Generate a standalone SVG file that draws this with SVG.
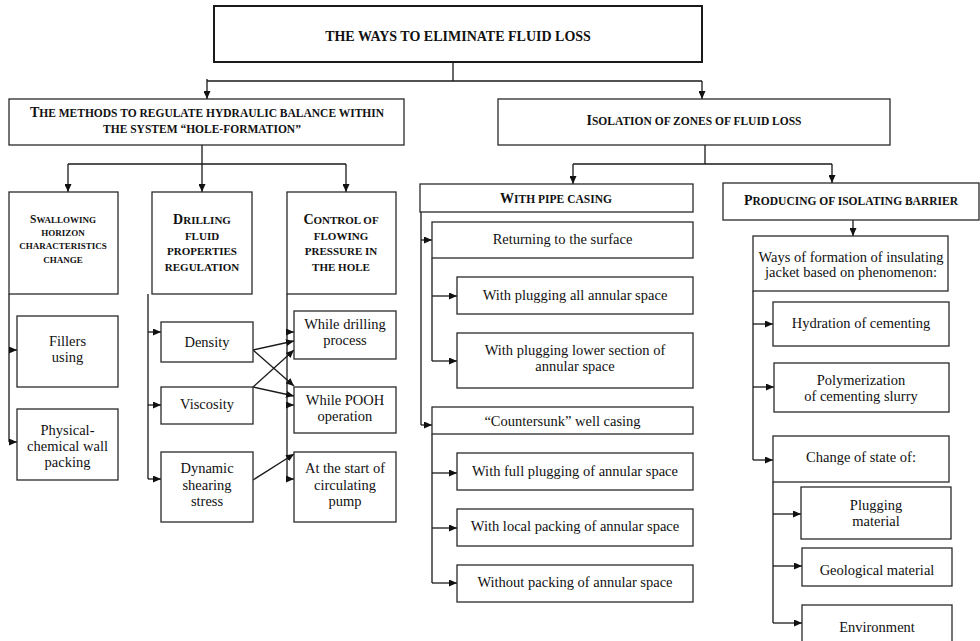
<svg xmlns="http://www.w3.org/2000/svg" width="980" height="641" viewBox="0 0 980 641" font-family="Liberation Serif, Times New Roman, serif">
<style>
rect{fill:#fff;stroke:#2a2a2a;stroke-width:1.3}
.title rect{stroke-width:2;stroke:#1a1a1a}
text{fill:#111;text-anchor:middle}
.t{font-size:14px}
.h{font-weight:bold;font-size:11.5px}
.h1{font-weight:bold;font-size:14px}
.hc{font-weight:bold;font-size:11px}
.hs{font-weight:bold;font-size:9px}
.b{font-size:14.5px}
#conn path{fill:none;stroke:#1a1a1a;stroke-width:1.3}
#conn .a{marker-end:url(#arr)}
</style>
<defs>
<marker id="arr" markerUnits="userSpaceOnUse" markerWidth="8" markerHeight="7" refX="8" refY="3.5" orient="auto">
<path d="M0,0 L8,3.5 L0,7 z" fill="#111"/>
</marker>
</defs>
<rect x="0" y="0" width="980" height="641" style="fill:#fff;stroke:none"/>
<g id="conn">
<path d="M453,62 V81 M207,81 H702"/>
<path class="a" d="M207,79 V99"/>
<path class="a" d="M702,81 V99"/>
<path d="M202,145 V164 M68,164 H346"/>
<path class="a" d="M68,164 V192"/>
<path class="a" d="M202,164 V192"/>
<path class="a" d="M346,164 V192"/>
<path d="M705,145 V164 M573,164 H832"/>
<path class="a" d="M573,164 V184"/>
<path class="a" d="M832,164 V183"/>
<path d="M9,294 V442"/>
<path class="a" d="M9,350 H17"/>
<path class="a" d="M9,442 H17"/>
<path d="M148,294 V479"/>
<path class="a" d="M148,332 H161"/>
<path class="a" d="M148,405 H161"/>
<path class="a" d="M148,479 H161"/>
<path d="M287,294 V479"/>
<path class="a" d="M287,332 H294"/>
<path class="a" d="M287,405 H294"/>
<path class="a" d="M287,479 H294"/>
<path class="a" d="M253,350 L294,341"/>
<path class="a" d="M253,350 L294,386"/>
<path class="a" d="M253,387 L294,350"/>
<path class="a" d="M253,387 L294,396"/>
<path class="a" d="M253,480 L294,454"/>
<path d="M421,212 V425"/>
<path class="a" d="M421,240 H432"/>
<path class="a" d="M421,425 H432"/>
<path d="M432,258 V361"/>
<path class="a" d="M432,296 H457"/>
<path class="a" d="M432,361 H457"/>
<path d="M432,434 V583"/>
<path class="a" d="M432,473 H457"/>
<path class="a" d="M432,528 H457"/>
<path class="a" d="M432,583 H457"/>
<path class="a" d="M853,220 V236"/>
<path d="M753,291 V460"/>
<path class="a" d="M753,324 H773"/>
<path class="a" d="M753,387 H774"/>
<path class="a" d="M753,460 H773"/>
<path d="M773,482 V623"/>
<path class="a" d="M773,514 H801"/>
<path class="a" d="M773,566 H802"/>
<path class="a" d="M773,623 H802"/>
</g>
<g id="n-title" class="title">
<rect x="214" y="6" width="488" height="56"/>
<text class="t" font-weight="bold" x="458" y="41">THE WAYS TO ELIMINATE FLUID LOSS</text>
</g>
<g id="n-methods">
<rect x="9" y="99" width="395" height="46"/>
<text class="h" x="207" y="117"><tspan class="h1">T</tspan>HE METHODS TO REGULATE HYDRAULIC BALANCE WITHIN</text>
<text class="h" x="202" y="133">THE SYSTEM “HOLE-FORMATION”</text>
</g>
<g id="n-isolation">
<rect x="498" y="99" width="392" height="46"/>
<text class="h" x="694" y="125"><tspan class="h1">I</tspan>SOLATION OF ZONES OF FLUID LOSS</text>
</g>
<g id="n-swallowing">
<rect x="9" y="192" width="109" height="102"/>
<text class="hs" x="63" y="223"><tspan style="font-size:11.5px">S</tspan>WALLOWING</text>
<text class="hs" x="63" y="236">HORIZON</text>
<text class="hs" x="63" y="249">CHARACTERISTICS</text>
<text class="hs" x="63" y="263">CHANGE</text>
</g>
<g id="n-drilling">
<rect x="152" y="192" width="100" height="102"/>
<text class="hc" x="202" y="224"><tspan style="font-size:14px">D</tspan>RILLING</text>
<text class="hc" x="202" y="240">FLUID</text>
<text class="hc" x="202" y="255">PROPERTIES</text>
<text class="hc" x="202" y="271">REGULATION</text>
</g>
<g id="n-control">
<rect x="287" y="192" width="109" height="102"/>
<text class="hc" x="341" y="224"><tspan style="font-size:14px">C</tspan>ONTROL OF</text>
<text class="hc" x="341" y="240">FLOWING</text>
<text class="hc" x="341" y="255">PRESSURE IN</text>
<text class="hc" x="341" y="271">THE HOLE</text>
</g>
<g id="n-fillers">
<rect x="17" y="316" width="101" height="71"/>
<text class="b" x="67.5" y="346">Fillers</text>
<text class="b" x="67.5" y="362">using</text>
</g>
<g id="n-physical">
<rect x="17" y="409" width="101" height="71"/>
<text class="b" x="67.5" y="435">Physical-</text>
<text class="b" x="67.5" y="451">chemical wall</text>
<text class="b" x="67.5" y="467">packing</text>
</g>
<g id="n-density">
<rect x="161" y="322" width="92" height="40"/>
<text class="b" x="207" y="347">Density</text>
</g>
<g id="n-viscosity">
<rect x="161" y="387" width="92" height="37"/>
<text class="b" x="207" y="409">Viscosity</text>
</g>
<g id="n-dynamic">
<rect x="161" y="452" width="92" height="70"/>
<text class="b" x="207" y="473">Dynamic</text>
<text class="b" x="207" y="490">shearing</text>
<text class="b" x="207" y="506">stress</text>
</g>
<g id="n-while-drilling">
<rect x="294" y="311" width="102" height="48"/>
<text class="b" x="345" y="329">While drilling</text>
<text class="b" x="345" y="345">process</text>
</g>
<g id="n-pooh">
<rect x="294" y="387" width="102" height="46"/>
<text class="b" x="345" y="405">While POOH</text>
<text class="b" x="345" y="421">operation</text>
</g>
<g id="n-start">
<rect x="294" y="452" width="102" height="70"/>
<text class="b" x="345" y="473">At the start of</text>
<text class="b" x="345" y="490">circulating</text>
<text class="b" x="345" y="506">pump</text>
</g>
<g id="n-pipe">
<rect x="420" y="184" width="273" height="28"/>
<text class="h" x="556" y="203"><tspan class="h1">W</tspan>ITH PIPE CASING</text>
</g>
<g id="n-returning">
<rect x="432" y="222" width="261" height="36"/>
<text class="b" x="562.5" y="244">Returning to the surface</text>
</g>
<g id="n-plug-all">
<rect x="457" y="277" width="236" height="37"/>
<text class="b" x="575" y="300">With plugging all annular space</text>
</g>
<g id="n-plug-lower">
<rect x="457" y="333" width="236" height="55"/>
<text class="b" x="575" y="355">With plugging lower section of</text>
<text class="b" x="575" y="371">annular space</text>
</g>
<g id="n-countersunk">
<rect x="432" y="407" width="261" height="27"/>
<text class="b" x="562.5" y="426">“Countersunk” well casing</text>
</g>
<g id="n-full">
<rect x="457" y="453" width="236" height="37"/>
<text class="b" x="575" y="476">With full plugging of annular space</text>
</g>
<g id="n-local">
<rect x="457" y="509" width="236" height="37"/>
<text class="b" x="575" y="531">With local packing of annular space</text>
</g>
<g id="n-without">
<rect x="457" y="565" width="236" height="37"/>
<text class="b" x="575" y="587">Without packing of annular space</text>
</g>
<g id="n-barrier">
<rect x="723" y="183" width="256" height="37"/>
<text class="h" x="851" y="205"><tspan class="h1">P</tspan>RODUCING OF ISOLATING BARRIER</text>
</g>
<g id="n-ways">
<rect x="753" y="236" width="195" height="55"/>
<text class="b" x="851" y="262">Ways of formation of insulating</text>
<text class="b" x="851" y="277">jacket based on phenomenon:</text>
</g>
<g id="n-hydration">
<rect x="773" y="302" width="176" height="44"/>
<text class="b" x="861" y="328">Hydration of cementing</text>
</g>
<g id="n-polymer">
<rect x="774" y="363" width="175" height="49"/>
<text class="b" x="861" y="385">Polymerization</text>
<text class="b" x="861" y="401">of cementing slurry</text>
</g>
<g id="n-change">
<rect x="773" y="436" width="176" height="46"/>
<text class="b" x="861" y="462">Change of state of:</text>
</g>
<g id="n-plugging">
<rect x="801" y="487" width="150" height="52"/>
<text class="b" x="876" y="510">Plugging</text>
<text class="b" x="876" y="526">material</text>
</g>
<g id="n-geological">
<rect x="802" y="548" width="150" height="38"/>
<text class="b" x="877" y="575">Geological material</text>
</g>
<g id="n-environment">
<rect x="802" y="605" width="150" height="45"/>
<text class="b" x="877" y="632">Environment</text>
</g>
</svg>
